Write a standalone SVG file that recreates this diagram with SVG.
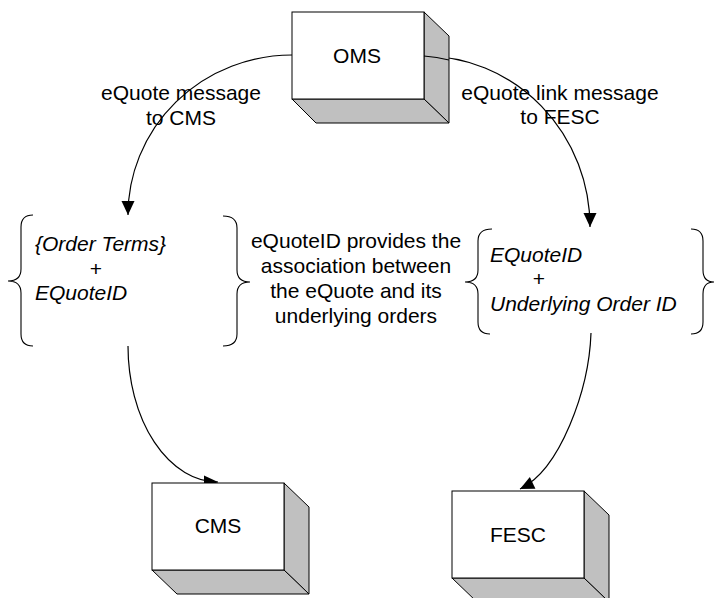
<svg xmlns="http://www.w3.org/2000/svg" width="715" height="598" viewBox="0 0 715 598">
<style>
text{font-family:"Liberation Sans",Arial,sans-serif;font-size:21px;fill:#000}
.it{font-style:italic}
.m{text-anchor:middle}
.front{fill:#fff;stroke:#000;stroke-width:1}
.side{fill:#c0c0c0;stroke:#000;stroke-width:1;stroke-linejoin:round}
.conn{fill:none;stroke:#000;stroke-width:1.2}
.brace{fill:none;stroke:#000;stroke-width:1.1}
</style>
<defs>
<marker id="ah" markerUnits="userSpaceOnUse" markerWidth="16" markerHeight="16" viewBox="0 0 16 16" refX="15" refY="8" orient="auto">
<path d="M1,1.5 L15,8 L1,14.5 Z" fill="#000"/>
</marker>
</defs>
<rect width="715" height="598" fill="#fff"/>

<g id="connectors">
<path class="conn" d="M292,55 A164,160 0 0 0 128,215" marker-end="url(#ah)"/>
<path class="conn" d="M424,56 A166,171 0 0 1 590,227" marker-end="url(#ah)"/>
<path class="conn" d="M128,346 A90,136 0 0 0 218,482" marker-end="url(#ah)"/>
<path class="conn" d="M591,333 C589,390 560,470 520,489" marker-end="url(#ah)"/>
</g>

<g id="oms">
<polygon class="side" points="424,12 449,36 449,123 424,99"/>
<polygon class="side" points="292,99 316,123 449,123 424,99"/>
<rect class="front" x="292" y="12" width="132" height="87"/>
<path class="conn" d="M424,56 Q437,57 449,60"/>
<text class="m" x="357" y="63">OMS</text>
</g>

<g id="cms">
<polygon class="side" points="284,483 309,507 309,594 284,570"/>
<polygon class="side" points="152,570 177,594 309,594 284,570"/>
<rect class="front" x="152" y="483" width="132" height="87"/>
<text class="m" x="218" y="533">CMS</text>
</g>

<g id="fesc">
<polygon class="side" points="584,491 609,515 609,602 584,578"/>
<polygon class="side" points="452,578 477,602 609,602 584,578"/>
<rect class="front" x="452" y="491" width="132" height="87"/>
<text class="m" x="518" y="542">FESC</text>
</g>

<g id="label-cms">
<text class="m" x="181" y="100">eQuote message</text>
<text class="m" x="181" y="125">to CMS</text>
</g>

<g id="label-fesc">
<text class="m" x="560" y="100">eQuote link message</text>
<text class="m" x="560" y="124">to FESC</text>
</g>

<g id="left-group">
<path class="brace" d="M33,215 Q21,215 21,227 L21,269 Q21,281 8,281 Q21,281 21,293 L21,334 Q21,346 33,346"/>
<path class="brace" d="M223,216 Q237,216 237,228 L237,270 Q237,282 250,282 Q237,282 237,294 L237,334 Q237,346 223,346"/>
<text class="it" x="35" y="251">{Order Terms}</text>
<text class="m" x="96" y="276">+</text>
<text class="it" x="35" y="300">EQuoteID</text>
</g>

<g id="note">
<text class="m" x="356" y="248">eQuoteID provides the</text>
<text class="m" x="356" y="273">association between</text>
<text class="m" x="356" y="298">the eQuote and its</text>
<text class="m" x="356" y="323">underlying orders</text>
</g>

<g id="right-group">
<path class="brace" d="M492,229 Q478,229 478,241 L478,270 Q478,282 465,282 Q478,282 478,294 L478,322 Q478,334 490,334"/>
<path class="brace" d="M691,229 Q703,229 703,241 L703,270 Q703,282 714,282 Q703,282 703,294 L703,322 Q703,334 691,334"/>
<text class="it" x="490" y="262">EQuoteID</text>
<text class="m" x="539" y="286">+</text>
<text class="it" x="490" y="311">Underlying Order ID</text>
</g>
</svg>
